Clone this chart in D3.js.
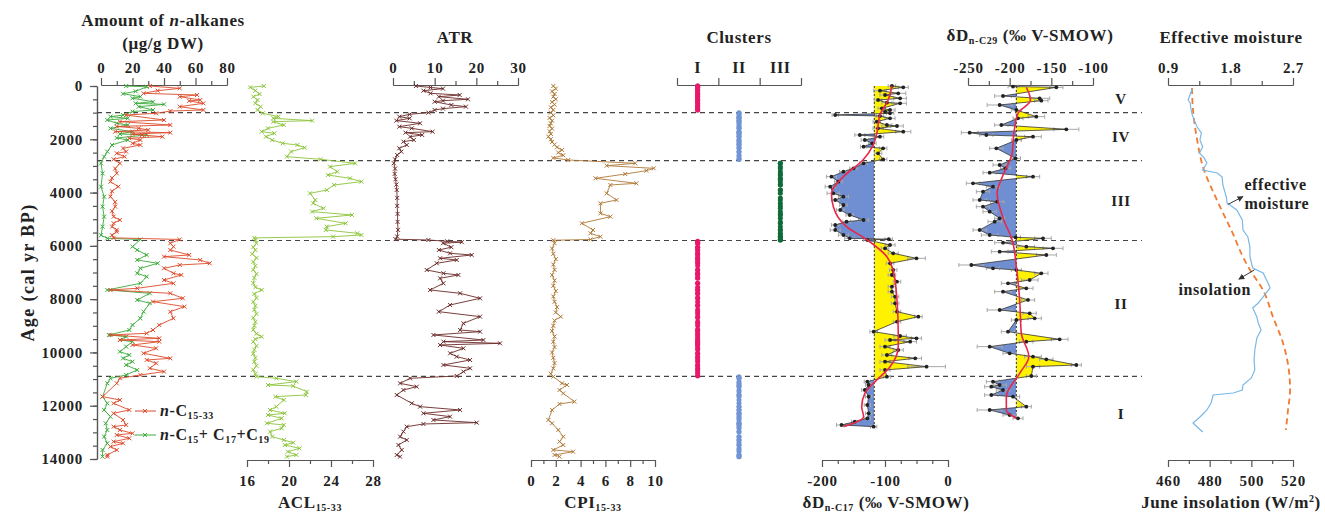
<!DOCTYPE html>
<html>
<head>
<meta charset="utf-8">
<title>n-alkane records</title>
<script src="https://d3js.org/d3.v7.min.js"></script>
<style>
    body { margin:0; background:#fff; }
    svg text { font-family:"Liberation Serif", "Times New Roman", serif; font-weight:bold; fill:#222; letter-spacing:0.6px; }
    .axis path, .axis line { stroke:#555; stroke-width:1.2; }
    .axis text { font-size:15px; letter-spacing:0.8px; }
    .title { font-size:17px; }
</style>
</head>
<body>
<svg id="chart" width="1325" height="515"></svg>
<script>
// ---- data: [age cal yr BP, value] ----
var alkTotal = [[0,31],[88,50],[175,36],[275,27],[338,61],[400,50],[525,63],[560,56],[650,65],[775,50],[900,65],[940,44],[1025,35],
    [1088,16],[1276,40],[1338,12],[1464,44],[1520,10],[1589,24],[1650,30],[1714,9],[1751,44],[1800,20],[1839,26],[1902,39],[1960,18],[2027,25],[2150,20],[2214,25],[2339,14],[2464,16],[2527,10],[2652,15],[2752,8],
    [2902,12],[3100,9],[3278,10],[3450,7],[3590,6],[3778,11],[3950,7],[4153,6],[4350,9],[4529,9],[4700,7],[4904,8],[5029,12],[5150,8],[5279,7],[5400,10],[5467,10],[5600,7],[5700,8],
    [5760,50],[5900,44],[6030,46],[6155,44],[6343,56],[6405,40],[6530,63],[6655,69],[6718,50],[6843,40],[7030,46],[7093,51],[7281,40],[7406,46],[7593,23],[7656,6],[7781,44],[7969,52],[8094,33],[8282,53],[8470,44],[8720,46],[8970,37],[9158,33],[9283,29],[9345,6],[9470,37],[9533,12],[9596,37],[9720,20],[9846,35],[10033,27],[10221,44],[10283,29],[10409,35],[10596,31],[10721,40],[10846,25],[10971,12],
    [11160,10],[11660,1],[11785,12],[11910,8],[12160,18],[12285,8],[12535,14],[12723,16],[12786,8],[12911,12],[13036,20],[13099,10],[13224,18],[13349,8],[13411,14],[13536,6],[13661,10],[13849,4],[13911,4]];

var alkShort = [[0,16],[30,29],[200,22],[290,14],[400,25],[460,20],[590,33],[650,22],[690,40],[775,24],[900,33],[960,20],[1088,14],[1150,6],[1213,17],[1276,4],[1400,10],[1464,17],[1589,6],[1714,20],[1800,12],[1839,29],[1950,10],[2027,17],[2214,7],[2464,4],[2652,2],
    [2902,0],[3278,1],[3778,0],[4153,2],[4529,1],[4904,2],[5279,1],[5600,0],[5717,4],
    [5760,25],[6030,20],[6155,23],[6343,29],[6530,23],[6655,36],[6843,25],[7030,23],[7155,29],[7406,25],[7656,4],[7781,31],[8031,23],[8157,31],[8470,27],[8720,25],[8970,20],[9158,18],[9345,5],[9408,16],[9533,12],[9596,20],[9783,16],[9971,12],[10096,18],[10221,14],[10346,20],[10471,16],[10659,23],[10846,16],[10971,6],
    [11160,4],[11660,1],[11910,4],[12160,2],[12410,6],[12660,3],[12911,4],[13161,2],[13411,4],[13661,1],[13911,1]];

var acl = [[0,17.6],[50,16.3],[175,16.8],[300,17.2],[400,16.6],[525,17.0],[650,16.8],[775,17.3],[900,17.0],[1025,17.5],[1150,19.0],[1213,18.5],[1300,22.2],[1340,18.5],[1464,19.5],[1589,18.0],[1714,17.4],[1776,18.6],[1902,17.8],[2027,18.4],[2152,19.4],[2214,20.8],[2314,21.5],[2464,20.2],[2652,19.8],[2752,23.0],
    [2902,26.3],[3028,23.9],[3215,24.6],[3340,23.7],[3465,25.8],[3590,26.9],[3715,24.3],[3903,23.6],[4028,22.0],[4278,22.5],[4403,22.3],[4591,23.3],[4716,22.2],[4841,26.0],[4966,22.6],[5154,25.4],[5279,23.6],[5404,23.5],[5529,26.5],[5592,26.9],[5655,24.2],[5700,16.7],[5780,16.8],
    [5900,16.9],[6050,16.6],[6155,16.8],[6300,16.5],[6450,16.9],[6600,16.6],[6750,16.8],[6900,16.6],[7050,16.9],[7200,16.7],[7400,16.6],[7550,16.8],[7656,17.4],[7800,16.7],[7950,16.9],[8100,16.6],[8250,16.8],[8400,16.7],[8550,16.9],[8700,16.6],[8850,16.8],[9000,16.7],[9150,16.6],[9300,16.9],[9408,17.4],[9500,16.8],[9600,16.6],[9750,16.9],[9900,16.7],[10050,16.6],[10200,16.8],[10350,16.7],[10500,16.9],[10650,16.6],[10800,16.8],[10909,16.9],
    [10971,18.8],[11096,20.7],[11222,18.0],[11260,20.4],[11472,21.7],[11597,21.6],[11660,18.7],[11785,19.5],[12035,18.8],[12160,18.2],[12285,19.6],[12348,18.0],[12473,19.3],[12660,17.9],[12723,19.5],[12848,19.3],[12973,18.2],[13161,18.4],[13286,19.5],[13386,20.4],[13474,19.6],[13599,21.0],[13724,19.9],[13849,20.7],[13911,19.8]];

var atr = [[0,5.5],[55,9],[100,12],[175,7.3],[275,9],[338,16],[400,11],[500,18],[550,12],[590,10],[713,14],[775,17.5],[850,12],[900,10],[1000,8.5],[1063,4],
    [1150,1.5],[1213,4],[1300,0.8],[1400,6.5],[1526,1.5],[1589,4.5],[1714,9.5],[1751,3],[1839,7],[1902,4.1],[2027,5],[2089,2.5],[2214,3.3],[2339,1.5],[2464,2.0],[2589,1.0],[2752,0.5],
    [2900,0.2],[3100,0.5],[3300,0.4],[3500,0.6],[3700,0.8],[3900,0.9],[4200,1.0],[4500,1.0],[4800,1.1],[5100,1.1],[5400,1.2],[5650,1.0],[5750,0.6],
    [5780,8.5],[5830,13],[5860,16.5],[5900,12],[6050,14],[6155,11],[6280,13.7],[6343,18.9],[6468,11.3],[6530,15.3],[6655,10.5],[6905,8.1],[7030,12.1],[7093,15.7],[7218,11.3],[7406,12.1],[7656,8.9],[7781,16.1],[7969,20.9],[8219,13.7],[8470,11],[8657,20.9],[8908,16.9],[9158,16.1],[9220,20.9],[9345,9.7],[9533,21.7],[9596,12.1],[9658,25.7],[9720,11.3],[9846,16.9],[10033,13.7],[10158,15.3],[10284,18.5],[10471,12.1],[10596,18.5],[10721,16.9],[10884,15.3],
    [10971,4.1],[11160,1.7],[11285,5.7],[11410,2.5],[11597,0.9],[11910,4.5],[12035,6.5],[12160,16.1],[12285,7.3],[12410,13.7],[12535,9.7],[12636,20.1],[12686,7.3],[12786,3.3],[12973,2.5],[13161,1.7],[13286,3.3],[13474,1.3],[13661,2.1],[13849,0.9],[13911,1.7]];

var cpi = [[0,1.8],[100,2.0],[200,1.7],[300,1.9],[400,1.8],[500,2.0],[600,1.7],[700,1.9],[800,1.6],[900,1.8],[1000,1.6],[1100,1.8],[1200,1.5],[1300,1.7],[1400,1.6],[1500,1.5],[1600,1.7],[1700,1.5],[1800,1.6],[1900,1.4],[2000,1.6],[2100,1.7],[2200,1.9],[2300,2.1],[2400,2.5],[2500,2.2],[2600,2.6],[2700,1.8],
    [2777,3.0],[2902,8.4],[2990,6.1],[3090,9.9],[3178,9.3],[3303,7.6],[3465,5.2],[3653,8.5],[3715,6.4],[4028,6.1],[4278,6.9],[4403,5.6],[4779,5.6],[4904,6.4],[5154,4.1],[5404,5.0],[5529,4.8],[5655,5.6],[5760,4.8],[5790,1.8],
    [5900,1.9],[6100,1.7],[6300,1.8],[6500,2.0],[6700,1.8],[6900,1.9],[7100,1.7],[7300,1.9],[7500,1.8],[7700,2.0],[7900,1.8],[8100,1.9],[8300,2.1],[8500,2.0],[8657,2.4],[8800,1.9],[9000,1.8],[9200,1.7],[9400,1.9],[9600,1.8],[9800,1.9],[10000,1.7],[10200,1.8],[10400,1.9],[10600,1.8],[10800,1.6],[10909,1.8],
    [11160,2.5],[11222,2.9],[11410,2.3],[11535,2.6],[11848,3.5],[11935,2.3],[12160,1.7],[12535,1.4],[12660,1.7],[12911,2.2],[13161,2.6],[13349,2.3],[13474,2.6],[13661,1.8],[13724,3.4],[13849,1.9],[13911,2.3]];

// [age, dD, error]
var dC17 = [[0,-89,6],[50,-71,8],[175,-108,10],[275,-79,12],[338,-100,8],[463,-76,10],[525,-111,6],[625,-97,8],[650,-76,10],[838,-105,6],[900,-92,8],[963,-100,6],[1025,-92,6],[1088,-179,5],[1126,-108,6],[1213,-92,8],[1338,-113,6],[1464,-97,8],[1501,-81,10],[1589,-111,8],[1714,-71,12],[1839,-140,8],[1902,-108,6],[2027,-132,6],[2152,-120,6],[2277,-134,5],[2339,-103,6],[2527,-111,6],[2752,-103,6],
    [2902,-134,6],[3090,-150,6],[3215,-166,6],[3403,-185,8],[3590,-174,6],[3778,-187,8],[4028,-182,10],[4153,-166,8],[4278,-179,6],[4466,-166,6],[4654,-171,6],[4841,-156,6],[5029,-134,8],[5092,-161,6],[5217,-179,6],[5404,-179,8],[5592,-166,8],[5717,-156,8],[5750,-94,6],[5780,-128,6],
    [5967,-92,8],[6092,-100,6],[6280,-87,8],[6468,-50,14],[6655,-92,6],[6905,-87,6],[7093,-89,6],[7343,-81,6],[7531,-89,6],[7719,-89,6],[7906,-84,6],[8157,-84,6],[8470,-81,6],[8657,-47,6],[8845,-81,6],[9220,-118,6],[9383,-76,10],[9470,-50,8],[9533,-92,8],[9596,-60,10],[9783,-100,8],[9908,-79,8],[10096,-97,8],[10221,-52,10],[10346,-100,8],[10534,-34,30],[10659,-100,8],[10909,-97,6],
    [11097,-128,5],[11222,-126,5],[11410,-132,5],[11660,-126,5],[11973,-128,5],[12285,-126,5],[12473,-128,5],[12598,-148,5],[12723,-169,8],[12786,-118,5]];
var dC17Smooth = [[0,-89],[525,-95],[1088,-108],[1776,-113],[2277,-120],[2777,-135],[3403,-166],[4028,-185],[4529,-182],[5279,-161],[5780,-128],[6405,-97],[6905,-87],[8030,-81],[9283,-79],[9783,-79],[10534,-92],[11035,-113],[11535,-132],[12035,-137],[12410,-134],[12660,-150],[12786,-166]];
var dC17Base = -117;

var dC29 = [[20,-196,6],[50,-144,8],[375,-208,10],[463,-164,12],[550,-162,8],[713,-212,15],[900,-192,6],[1150,-168,10],[1213,-190,6],[1464,-210,8],[1626,-132,15],[1751,-248,10],[1839,-228,8],[1902,-172,10],[2027,-192,6],[2339,-216,8],[2715,-193,6],
    [2965,-212,8],[3090,-205,6],[3253,-224,8],[3403,-172,8],[3653,-244,8],[3778,-220,8],[3966,-232,8],[4278,-236,8],[4341,-215,8],[4529,-232,8],[4716,-224,8],[4966,-212,6],[5092,-218,8],[5404,-236,8],[5592,-224,10],[5680,-193,6],[5717,-160,10],
    [5880,-208,10],[6030,-180,10],[6092,-148,12],[6218,-212,10],[6343,-156,12],[6718,-246,15],[6843,-220,8],[6905,-192,6],[7030,-162,8],[7281,-176,10],[7406,-202,8],[7593,-180,8],[7719,-208,10],[8031,-178,8],[8407,-212,15],[8532,-176,8],[8720,-170,8],[8783,-192,6],[9220,-202,8],[9508,-140,10],[9596,-180,8],[9783,-224,15],[10033,-200,8],[10158,-172,10],[10258,-156,8],[10471,-120,6],[10534,-172,8],[10884,-174,6],
    [11097,-220,8],[11222,-212,8],[11285,-222,8],[11410,-208,8],[11597,-222,8],[11660,-196,8],[12035,-180,6],[12160,-224,15],[12348,-200,8],[12473,-190,6]];
var dC29Smooth = [[50,-180],[525,-175],[1025,-190],[1776,-195],[2527,-197],[3278,-207],[4028,-215],[5029,-207],[5780,-197],[6780,-192],[8031,-188],[9283,-186],[10158,-177],[10784,-188],[11660,-204],[12160,-204],[12473,-192]];
var dC29Base = -192;

var moisture = [[113,1.25],[300,1.22],[525,1.19],[638,1.22],[850,1.23],[1088,1.25],[1300,1.28],[1539,1.32],[1764,1.38],[2027,1.36],[2289,1.40],[2514,1.35],[2700,1.42],[2890,1.46],[3153,1.40],[3265,1.61],[3415,1.68],[3716,1.69],[4166,1.74],[4391,1.75],[4654,1.89],[5029,1.97],[5405,1.98],[5667,2.05],[6043,2.08],[6418,2.08],[6831,2.12],[7018,2.27],[7394,2.34],[7581,2.37],[7919,2.27],[8144,2.20],[8332,2.12],[8670,2.18],[8895,2.20],[9158,2.24],[9458,2.18],[9908,2.15],[10284,2.14],[10659,2.15],[10959,2.10],[11222,1.98],[11410,1.97],[11522,1.84],[11597,1.55],[11897,1.52],[12160,1.46],[12423,1.36],[12648,1.26],[12798,1.32],[12986,1.40]];
var insolation = [[75,471.5],[900,472],[2027,474],[3040,476.8],[4280,483.5],[5517,491],[6418,496],[6906,499.4],[7656,505.6],[8670,510.4],[9646,515.2],[10659,518],[11410,518.6],[12160,517.6],[12911,516.6]];

var zoneBounds = [1000, 2800, 5800, 10900];
var zoneNames = ["V", "IV", "III", "II", "I"];
var zoneMidAges = [500, 1900, 4300, 8200, 12300];
var zoneClusters = ["I", "II", "III", "I", "II"];
var clusterNames = ["I", "II", "III"];

var ageTicks = d3.range(0, 14001, 2000);
var ageMinor = d3.range(0, 14001, 500);

// ---- scales ----
var svg = d3.select("#chart");
var y = d3.scaleLinear().domain([0, 14000]).range([86, 459]);
var xAlk = d3.scaleLinear().domain([0, 80]).range([101, 227]);
var xAcl = d3.scaleLinear().domain([16, 28]).range([247, 373]);
var xAtr = d3.scaleLinear().domain([0, 30]).range([393, 518]);
var xCpi = d3.scaleLinear().domain([0, 10]).range([531, 655]);
var xClu = d3.scaleBand().domain(clusterNames).range([677, 801]);
var xClu2 = d3.scaleLinear().domain([0, 3]).range([677, 801]);
var xC17 = d3.scaleLinear().domain([-200, 0]).range([822, 948]);
var xC29 = d3.scaleLinear().domain([-250, -100]).range([968, 1093]);
var xEm = d3.scaleLinear().domain([0.9, 2.7]).range([1168, 1293]);
var xIns = d3.scaleLinear().domain([460, 520]).range([1168, 1293]);

var topY = 85, botY = 460;

function axis(orient, scale, pos, major, minor, fmt, pad) {
    var g = svg.append("g").attr("class", "axis");
    g.append("g").attr("transform", pos)
        .call(orient(scale).tickValues(minor).tickSize(4).tickSizeOuter(0).tickFormat(""));
    g.append("g").attr("transform", pos)
        .call(orient(scale).tickValues(major).tickSize(7).tickSizeOuter(0).tickPadding(pad).tickFormat(fmt));
    g.selectAll("g").attr("font-size", null).attr("font-family", null);
    return g;
}
var plain = function(d) { return String(d); };

axis(d3.axisLeft, y, "translate(97,0)", ageTicks, ageMinor, plain, 7);
axis(d3.axisTop, xAlk, "translate(0," + topY + ")", [0,20,40,60,80], [10,30,50,70], plain, 5);
axis(d3.axisBottom, xAcl, "translate(0," + botY + ")", [16,20,24,28], [18,22,26], plain, 8);
axis(d3.axisTop, xAtr, "translate(0," + topY + ")", [0,10,20,30], [5,15,25], plain, 5);
axis(d3.axisBottom, xCpi, "translate(0," + botY + ")", [0,2,4,6,8,10], [1,3,5,7,9], plain, 8);
axis(d3.axisTop, xClu2, "translate(0," + topY + ")", [0,1,2,3], [], function() { return ""; }, 5);
axis(d3.axisBottom, xC17, "translate(0," + botY + ")", [-200,-100,0], [-175,-150,-125,-75,-50,-25], plain, 8);
axis(d3.axisTop, xC29, "translate(0," + topY + ")", [-250,-200,-150,-100], [-225,-175,-125], plain, 5);
axis(d3.axisTop, xEm, "translate(0," + topY + ")", [0.9,1.8,2.7], [1.35,2.25], d3.format(".1f"), 5);
axis(d3.axisBottom, xIns, "translate(0," + botY + ")", [460,480,500,520], [470,490,510], plain, 8);

svg.selectAll(".clu-label").data(clusterNames).join("text")
    .attr("x", function(d) { return xClu(d) + xClu.bandwidth() / 2; })
    .attr("y", topY - 12).attr("text-anchor", "middle").style("font-size", "16px")
    .text(function(d) { return d; });

// ---- titles ----
function title(x, yy, parts) {
    var t = svg.append("text").attr("class", "title").attr("x", x).attr("y", yy).attr("text-anchor", "middle");
    parts.forEach(function(p) {
        var s = t.append("tspan").text(p.t);
        if (p.i) s.style("font-style", "italic");
        if (p.sub) s.style("font-size", "10px").attr("dy", 3);
        if (p.sup) s.style("font-size", "10px").attr("dy", -6);
        if (p.up) s.attr("dy", p.up);
    });
    return t;
}
title(163, 26, [{t: "Amount of "}, {t: "n", i: true}, {t: "-alkanes"}]);
title(163, 49, [{t: "(μg/g DW)"}]);
title(455, 43, [{t: "ATR"}]);
title(739, 43, [{t: "Clusters"}]);
title(1030, 41, [{t: "δD"}, {t: "n-C29", sub: true}, {t: " (‰ V-SMOW)", up: -3}]);
title(1231, 43, [{t: "Effective moisture"}]);
title(310, 508, [{t: "ACL"}, {t: "15-33", sub: true}]);
title(593, 508, [{t: "CPI"}, {t: "15-33", sub: true}]);
title(886, 508, [{t: "δD"}, {t: "n-C17", sub: true}, {t: " (‰ V-SMOW)", up: -3}]);
title(1231, 508, [{t: "June insolation (W/m"}, {t: "2", sup: true}, {t: ")", up: 6}]);

svg.append("text").attr("class", "title")
    .attr("transform", "translate(34," + ((y(0) + y(14000)) / 2) + ") rotate(-90)")
    .attr("text-anchor", "middle").style("font-size", "18px").style("letter-spacing", "1.4px")
    .text("Age (cal yr BP)");

// ---- zone lines and labels ----
svg.selectAll(".zone").data(zoneBounds).join("line")
    .attr("x1", 97).attr("x2", 1142)
    .attr("y1", function(d) { return y(d); }).attr("y2", function(d) { return y(d); })
    .attr("stroke", "#444").attr("stroke-width", 1.1).attr("stroke-dasharray", "5,4");
svg.selectAll(".zname").data(zoneNames).join("text")
    .attr("x", 1121).attr("y", function(d, i) { return y(zoneMidAges[i]) + 5; })
    .attr("text-anchor", "middle").style("font-size", "15px")
    .text(function(d) { return d; });

// ---- line series with cross markers ----
var cross = "M-2,-2L2,2M-2,2L2,-2";
function series(data, xs, color) {
    var g = svg.append("g");
    g.append("path").datum(data)
        .attr("d", d3.line().x(function(d) { return xs(d[1]); }).y(function(d) { return y(d[0]); }))
        .attr("fill", "none").attr("stroke", color).attr("stroke-width", 1).attr("opacity", 0.9);
    g.selectAll("path.m").data(data).join("path").attr("class", "m")
        .attr("transform", function(d) { return "translate(" + xs(d[1]) + "," + y(d[0]) + ")"; })
        .attr("d", cross).attr("stroke", color).attr("stroke-width", 1);
}
series(alkShort, xAlk, "#3aaa3a");
series(alkTotal, xAlk, "#dd4a2a");
series(acl, xAcl, "#8cc43c");
series(atr, xAtr, "#6a2a28");
series(cpi, xCpi, "#b07a38");

// legend
var legendRows = [
    {color: "#dd4a2a", age: 12200, parts: [{t: "n", i: true}, {t: "-C"}, {t: "15-33", sub: true}]},
    {color: "#3aaa3a", age: 13100, parts: [{t: "n", i: true}, {t: "-C"}, {t: "15", sub: true}, {t: "+ C", up: -3}, {t: "17", sub: true}, {t: "+C", up: -3}, {t: "19", sub: true}]}
];
legendRows.forEach(function(r) {
    var ly = y(r.age);
    svg.append("line").attr("x1", 135).attr("x2", 156).attr("y1", ly).attr("y2", ly).attr("stroke", r.color);
    svg.append("path").attr("d", cross).attr("transform", "translate(145," + ly + ")").attr("stroke", r.color);
    var t = svg.append("text").attr("x", 160).attr("y", ly + 5).style("font-size", "16px");
    r.parts.forEach(function(p) {
        var s = t.append("tspan").text(p.t);
        if (p.i) s.style("font-style", "italic");
        if (p.sub) s.style("font-size", "10px").attr("dy", 3);
        if (p.up) s.attr("dy", p.up);
    });
});

// ---- clusters (one dot per sample) ----
var cluColors = {"I": "#e8196a", "II": "#7094d4", "III": "#0f6b3a"};
function zoneOf(age) { return d3.bisectRight(zoneBounds, age); }
var sampleAges = d3.merge([atr, acl]).map(function(d) { return d[0]; });
svg.append("g").selectAll("circle").data(sampleAges).join("circle")
    .attr("cx", function(a) { var c = zoneClusters[zoneOf(a)]; return xClu(c) + xClu.bandwidth() / 2; })
    .attr("cy", function(a) { return y(a); })
    .attr("r", 2.5)
    .attr("fill", function(a) { return cluColors[zoneClusters[zoneOf(a)]]; });

// ---- dD panels ----
function deltaPanel(id, data, smooth, xs, base) {
    var g = svg.append("g");
    var x0 = xs.range()[0], x1 = xs.range()[1], xb = xs(base);
    var defs = g.append("defs");
    defs.append("clipPath").attr("id", id + "r").append("rect").attr("x", xb).attr("y", 0).attr("width", x1 - xb + 60).attr("height", 515);
    defs.append("clipPath").attr("id", id + "l").append("rect").attr("x", x0 - 60).attr("y", 0).attr("width", xb - x0 + 60).attr("height", 515);
    var area = d3.area().y(function(d) { return y(d[0]); }).x0(xb).x1(function(d) { return xs(d[1]); });
    g.append("path").datum(data).attr("d", area).attr("fill", "#fff200").attr("clip-path", "url(#" + id + "r)");
    g.append("path").datum(data).attr("d", area).attr("fill", "#6f8fd2").attr("clip-path", "url(#" + id + "l)");
    g.append("line").attr("x1", xb).attr("x2", xb).attr("y1", y(0)).attr("y2", y(d3.max(data, function(d) { return d[0]; })))
        .attr("stroke", "#333").attr("stroke-dasharray", "2,2");
    var err = g.selectAll("g.err").data(data).join("g").attr("class", "err")
        .attr("transform", function(d) { return "translate(0," + y(d[0]) + ")"; })
        .attr("stroke", "#a8a8a8").attr("stroke-width", 1);
    err.append("line").attr("x1", function(d) { return xs(d[1] - d[2]); }).attr("x2", function(d) { return xs(d[1] + d[2]); });
    err.append("line").attr("x1", function(d) { return xs(d[1] - d[2]); }).attr("x2", function(d) { return xs(d[1] - d[2]); }).attr("y1", -2).attr("y2", 2);
    err.append("line").attr("x1", function(d) { return xs(d[1] + d[2]); }).attr("x2", function(d) { return xs(d[1] + d[2]); }).attr("y1", -2).attr("y2", 2);
    g.append("path").datum(data)
        .attr("d", d3.line().x(function(d) { return xs(d[1]); }).y(function(d) { return y(d[0]); }))
        .attr("fill", "none").attr("stroke", "#333").attr("stroke-width", 0.8);
    g.selectAll("circle").data(data).join("circle")
        .attr("cx", function(d) { return xs(d[1]); }).attr("cy", function(d) { return y(d[0]); })
        .attr("r", 1.9).attr("fill", "#222");
    g.append("path").datum(smooth)
        .attr("d", d3.line().curve(d3.curveMonotoneY).x(function(d) { return xs(d[1]); }).y(function(d) { return y(d[0]); }))
        .attr("fill", "none").attr("stroke", "#e8284a").attr("stroke-width", 1.6);
}
deltaPanel("c17", dC17, dC17Smooth, xC17, dC17Base);
deltaPanel("c29", dC29, dC29Smooth, xC29, dC29Base);

// ---- effective moisture & insolation ----
svg.append("path").datum(insolation)
    .attr("d", d3.line().curve(d3.curveMonotoneY).x(function(d) { return xIns(d[1]); }).y(function(d) { return y(d[0]); }))
    .attr("fill", "none").attr("stroke", "#f07a30").attr("stroke-width", 1.8).attr("stroke-dasharray", "6,4");
svg.append("path").datum(moisture)
    .attr("d", d3.line().x(function(d) { return xEm(d[1]); }).y(function(d) { return y(d[0]); }))
    .attr("fill", "none").attr("stroke", "#7ab8e6").attr("stroke-width", 1.2);

svg.append("defs").append("marker").attr("id", "arrow").attr("viewBox", "0 0 10 10")
    .attr("refX", 9).attr("refY", 5).attr("markerWidth", 6).attr("markerHeight", 6).attr("orient", "auto")
    .append("path").attr("d", "M0,0L10,5L0,10z").attr("fill", "#333");
svg.append("line").attr("x1", xEm(1.76)).attr("y1", y(4450)).attr("x2", xEm(1.98)).attr("y2", y(4150))
    .attr("stroke", "#333").attr("marker-end", "url(#arrow)");
svg.append("text").attr("x", xEm(2.0)).attr("y", y(3900)).style("font-size", "16px").text("effective");
svg.append("text").attr("x", xEm(2.0)).attr("y", y(4600)).style("font-size", "16px").text("moisture");
svg.append("line").attr("x1", xIns(501.5)).attr("y1", y(6900)).attr("x2", xIns(494)).attr("y2", y(7250))
    .attr("stroke", "#333").attr("marker-end", "url(#arrow)");
svg.append("text").attr("x", xIns(465)).attr("y", y(7850)).style("font-size", "16px").text("insolation");
</script>
</body>
</html>
